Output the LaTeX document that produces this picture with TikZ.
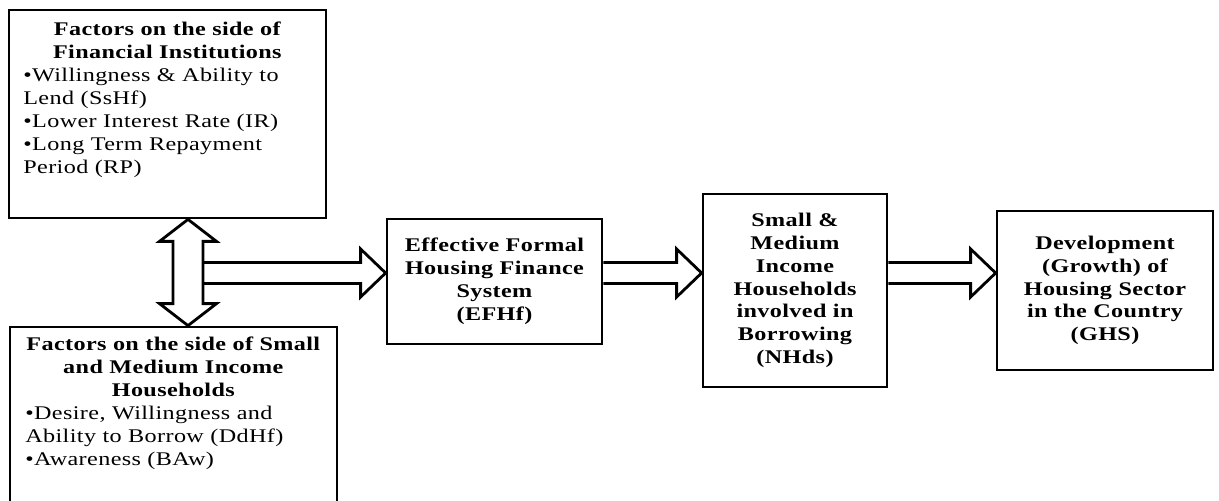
\documentclass[tikz,border=0pt]{standalone}
\usepackage{fontspec}
\setmainfont{Liberation Serif}[FakeStretch=1.25,LetterSpace=2]
\usetikzlibrary{calc}
\tikzset{
  box/.style={draw=black, line width=1.6pt, rectangle, inner sep=0pt},
  blk/.style={draw=black, line width=1.6pt, line join=miter},
  txt/.style={inner sep=0pt, font=\fontsize{11}{13}\selectfont},
}
\newcommand\harrow[2]{%
  \draw[blk] ($(#1)+(0,-10.5)$) -- ($(#2)+(-25,-10.5)$) -- ($(#2)+(-25,-24)$) -- (#2)
    -- ($(#2)+(-25,24)$) -- ($(#2)+(-25,10.5)$) -- ($(#1)+(0,10.5)$);}
\begin{document}
\begin{tikzpicture}[x=0.02cm,y=-0.02cm]
\useasboundingbox (0,0) rectangle (1219,500);
\clip (0,0) rectangle (1219,500);
% boxes
\node[box, minimum width=6.34cm, minimum height=4.16cm] (fi) at (167.5,114) {};
\node[box, minimum width=6.54cm, minimum height=3.86cm] (hh) at (173.5,423.5) {};
\node[box, txt, align=center, minimum width=4.3cm, minimum height=2.5cm] (fs) at (494.5,281.5)
  {\bfseries Effective Formal\\\bfseries Housing Finance\\\bfseries System\\\bfseries (EFHf)};
\node[box, txt, align=center, minimum width=3.68cm, minimum height=3.86cm] (nh) at (795,290.5)
  {\bfseries Small \&\\\bfseries Medium\\\bfseries Income\\\bfseries Households\\\bfseries involved in\\\bfseries Borrowing\\\bfseries (NHds)};
\node[box, txt, align=center, minimum width=4.32cm, minimum height=3.18cm] (gh) at (1105,290.5)
  {\bfseries Development\\\bfseries (Growth) of\\\bfseries Housing Sector\\\bfseries in the Country\\\bfseries (GHS)};
% texts of the two left boxes
\node[txt, anchor=north west, text width=5.76cm, align=left] (fit) at (23,22)
  {{\centering\bfseries Factors on the side of\\Financial Institutions\par}
   \textbullet Willingness \& Ability to\\Lend (SsHf)\\\textbullet Lower Interest Rate (IR)\\\textbullet Long Term Repayment\\Period (RP)};
\node[txt, anchor=north west, text width=5.92cm, align=left] (hht) at (25,337)
  {{\centering\bfseries Factors on the side of Small\\and Medium Income\\Households\par}
   \textbullet Desire, Willingness and\\Ability to Borrow (DdHf)\\\textbullet Awareness (BAw)};
% double arrow
\coordinate (vx) at (188,0);
\coordinate (T) at (vx |- fi.south);
\coordinate (B) at (vx |- hh.north);
\draw[blk] (T) -- ($(T)+(28.5,22)$) -- ($(T)+(15,22)$) -- ($(B)+(15,-22)$) -- ($(B)+(28.5,-22)$)
  -- (B) -- ($(B)+(-28.5,-22)$) -- ($(B)+(-15,-22)$) -- ($(T)+(-15,22)$) -- ($(T)+(-28.5,22)$) -- cycle;
% horizontal arrows
\coordinate (a1s) at (203,273);
\coordinate (a1t) at (fs.west |- a1s);
\harrow{a1s}{a1t}
\coordinate (a2s) at (fs.east |- a1s);
\coordinate (a2t) at (nh.west |- a1s);
\harrow{a2s}{a2t}
\coordinate (a3s) at (nh.east |- a1s);
\coordinate (a3t) at (gh.west |- a1s);
\harrow{a3s}{a3t}
\end{tikzpicture}
\end{document}
